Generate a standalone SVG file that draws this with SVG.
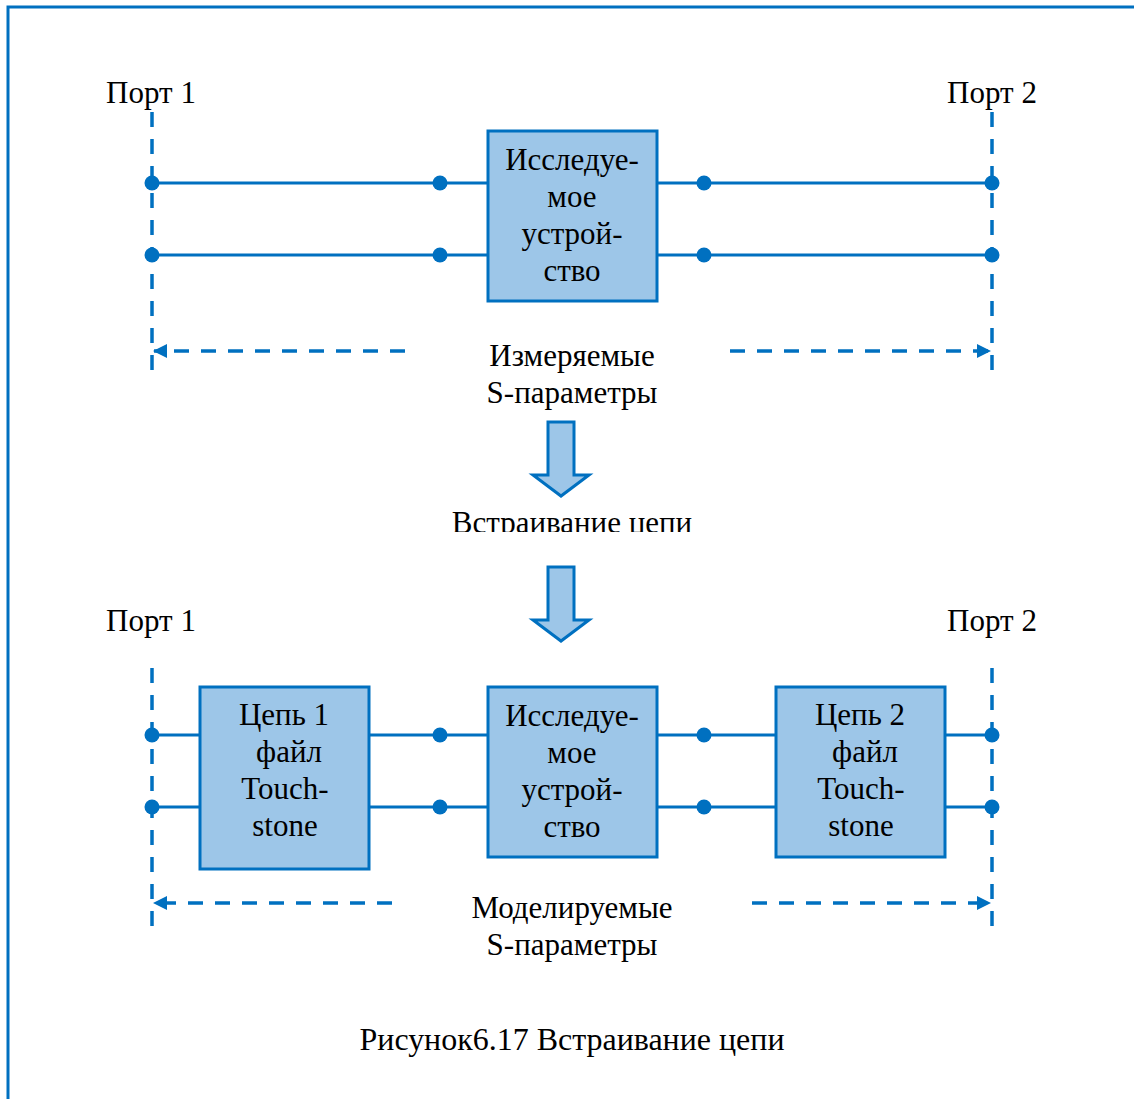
<svg xmlns="http://www.w3.org/2000/svg" width="1134" height="1099" viewBox="0 0 1134 1099">
<style>
.t{font-family:"Liberation Serif","Times New Roman",serif;font-size:31px;fill:#000;text-anchor:middle}
.ln{stroke:#0070C0;stroke-width:3;fill:none}
.ds{stroke:#0070C0;stroke-width:3.5;fill:none;stroke-dasharray:15 12}
.dot{fill:#0070C0}
.box{fill:#9DC6E8;stroke:#0070C0;stroke-width:3}
.barr{fill:#9DC6E8;stroke:#0070C0;stroke-width:3;stroke-linejoin:miter}
</style>
<defs>
<marker id="ah" viewBox="0 0 14 14" refX="13" refY="7" markerWidth="14" markerHeight="14" markerUnits="userSpaceOnUse" orient="auto-start-reverse">
<path d="M0,0 L14,7 L0,14 Z" fill="#0070C0"/>
</marker>
<clipPath id="clipT"><rect x="0" y="490" width="1134" height="42"/></clipPath>
</defs>
<rect x="0" y="0" width="1134" height="1099" fill="#fff"/>
<g id="frame"><path d="M8,1099 L8,7 L1134,7" class="ln" stroke-width="2"/></g>

<g id="connectors">
<line x1="152" y1="112" x2="152" y2="376" class="ds"/>
<line x1="992" y1="112" x2="992" y2="376" class="ds"/>
<line x1="152" y1="183" x2="488" y2="183" class="ln"/>
<line x1="152" y1="255" x2="488" y2="255" class="ln"/>
<line x1="657" y1="183" x2="992" y2="183" class="ln"/>
<line x1="657" y1="255" x2="992" y2="255" class="ln"/>
<line x1="405" y1="351" x2="154" y2="351" class="ds" marker-end="url(#ah)"/>
<line x1="730" y1="351" x2="990" y2="351" class="ds" marker-end="url(#ah)"/>
<line x1="152" y1="668" x2="152" y2="928" class="ds"/>
<line x1="992" y1="668" x2="992" y2="928" class="ds"/>
<line x1="152" y1="735" x2="200" y2="735" class="ln"/>
<line x1="152" y1="807" x2="200" y2="807" class="ln"/>
<line x1="369" y1="735" x2="488" y2="735" class="ln"/>
<line x1="369" y1="807" x2="488" y2="807" class="ln"/>
<line x1="657" y1="735" x2="776" y2="735" class="ln"/>
<line x1="657" y1="807" x2="776" y2="807" class="ln"/>
<line x1="945" y1="735" x2="992" y2="735" class="ln"/>
<line x1="945" y1="807" x2="992" y2="807" class="ln"/>
<line x1="392" y1="903" x2="154" y2="903" class="ds" marker-end="url(#ah)"/>
<line x1="752" y1="903" x2="990" y2="903" class="ds" marker-end="url(#ah)"/>
<circle cx="152" cy="183" r="7.5" class="dot"/>
<circle cx="440" cy="183" r="7.5" class="dot"/>
<circle cx="704" cy="183" r="7.5" class="dot"/>
<circle cx="992" cy="183" r="7.5" class="dot"/>
<circle cx="152" cy="255" r="7.5" class="dot"/>
<circle cx="440" cy="255" r="7.5" class="dot"/>
<circle cx="704" cy="255" r="7.5" class="dot"/>
<circle cx="992" cy="255" r="7.5" class="dot"/>
<circle cx="152" cy="735" r="7.5" class="dot"/>
<circle cx="440" cy="735" r="7.5" class="dot"/>
<circle cx="704" cy="735" r="7.5" class="dot"/>
<circle cx="992" cy="735" r="7.5" class="dot"/>
<circle cx="152" cy="807" r="7.5" class="dot"/>
<circle cx="440" cy="807" r="7.5" class="dot"/>
<circle cx="704" cy="807" r="7.5" class="dot"/>
<circle cx="992" cy="807" r="7.5" class="dot"/>
<polygon points="548,422 574,422 574,475 589,475 561,496 533,475 548,475" class="barr"/>
<polygon points="548,567 574,567 574,620 589,620 561,641 533,620 548,620" class="barr"/>
</g>

<g id="labels">
<text x="151" y="103" class="t">Порт 1</text>
<text x="992" y="103" class="t">Порт 2</text>
<text x="572" y="366" class="t">Измеряемые</text>
<text x="572" y="403" class="t">S-параметры</text>
<text x="572" y="533" class="t" clip-path="url(#clipT)">Встраивание цепи</text>
<text x="151" y="631" class="t">Порт 1</text>
<text x="992" y="631" class="t">Порт 2</text>
<text x="572" y="918" class="t">Моделируемые</text>
<text x="572" y="955" class="t">S-параметры</text>
<text x="572" y="1050" class="t" textLength="425" lengthAdjust="spacingAndGlyphs">Рисунок6.17 Встраивание цепи</text>
</g>

<g id="dut-top">
<rect x="488" y="131" width="169" height="170" class="box"/>
<text x="572" y="170" class="t">Исследуе-</text>
<text x="572" y="207" class="t">мое</text>
<text x="572" y="244" class="t">устрой-</text>
<text x="572" y="281" class="t">ство</text>
</g>

<g id="circuit1">
<rect x="200" y="687" width="169" height="182" class="box"/>
<text x="284" y="725" class="t">Цепь 1</text>
<text x="289" y="762" class="t">файл</text>
<text x="285" y="799" class="t">Touch-</text>
<text x="285" y="836" class="t">stone</text>
</g>

<g id="dut-bottom">
<rect x="488" y="687" width="169" height="170" class="box"/>
<text x="572" y="726" class="t">Исследуе-</text>
<text x="572" y="763" class="t">мое</text>
<text x="572" y="800" class="t">устрой-</text>
<text x="572" y="837" class="t">ство</text>
</g>

<g id="circuit2">
<rect x="776" y="687" width="169" height="170" class="box"/>
<text x="860" y="725" class="t">Цепь 2</text>
<text x="865" y="762" class="t">файл</text>
<text x="861" y="799" class="t">Touch-</text>
<text x="861" y="836" class="t">stone</text>
</g>
</svg>
